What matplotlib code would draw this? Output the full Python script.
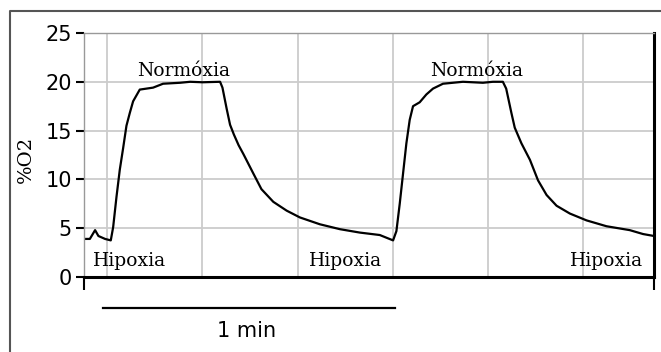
import matplotlib
matplotlib.use("Agg")
import matplotlib.pyplot as plt
from matplotlib.lines import Line2D

# O2 trace (time in s, %O2)
t = [0.0, 1.3, 2.4, 3.1, 4.5, 5.7, 6.2, 6.9, 7.6, 8.3, 9.0, 9.7, 10.4, 11.8,
     14.6, 16.7, 20.3, 22.4, 25.0, 28.7, 29.2, 30.1, 30.8, 31.6, 32.6, 33.6, 35.7,
     37.4, 39.9, 42.7, 45.5, 49.7, 53.9, 58.1, 62.3, 65.1,
     65.8, 66.5, 67.2, 67.9, 68.6, 69.3, 70.7, 72.1, 73.5, 75.6, 79.8, 84.0,
     86.1, 88.2, 88.9, 90.0, 90.7, 92.1, 93.9, 95.6, 97.4, 99.5, 102.3, 105.8,
     110.0, 114.9, 117.7, 120.0]
o2 = [3.9, 3.9, 4.8, 4.2, 3.9, 3.75, 5.1, 8.2, 11.0, 13.2, 15.5, 16.8, 18.0, 19.2,
      19.4, 19.8, 19.9, 20.0, 19.95, 20.0, 19.4, 17.2, 15.6, 14.6, 13.5, 12.6, 10.6,
      9.0, 7.7, 6.8, 6.1, 5.4, 4.9, 4.55, 4.3, 3.75,
      4.7, 7.5, 10.6, 13.7, 16.1, 17.5, 17.9, 18.7, 19.3, 19.8, 20.0, 19.9,
      20.0, 20.0, 19.3, 16.8, 15.3, 13.7, 12.0, 9.9, 8.4, 7.3, 6.5, 5.8,
      5.2, 4.8, 4.4, 4.2]

normoxia_t = [21.1, 82.7]
hipoxia_t = [9.7, 55.0, 110.0]
grid_t = [5, 25, 45, 65, 85, 105]
y_ticks = [0, 5, 10, 15, 20, 25]
bar_t = [4.1, 65.5]

fig = plt.figure(figsize=(6.61, 3.52), dpi=100)
ax = fig.add_axes([0.1266, 0.2131, 0.8628, 0.6932])

for g in grid_t:
    ax.axvline(g, color="#cccccc", lw=1.3, zorder=0)
for y in y_ticks[1:-1]:
    ax.axhline(y, color="#cccccc", lw=1.3, zorder=0)

ax.plot(t, o2, color="black", lw=1.6)

ax.set_xlim(0, 120)
ax.set_ylim(0, 25)
ax.set_yticks(y_ticks)
ax.set_xticks([0, 120])
ax.set_xticklabels([])
ax.tick_params(axis="y", length=6, width=1.5, pad=2.5, labelsize=15)
ax.tick_params(axis="x", length=9, width=1.5)

for s in ["left", "top"]:
    ax.spines[s].set_color("#999999")
    ax.spines[s].set_linewidth(1.0)
for s in ["right", "bottom"]:
    ax.spines[s].set_color("black")
    ax.spines[s].set_linewidth(2.2)

ax.set_ylabel("%O2", family="DejaVu Serif", fontsize=14)
ax.yaxis.set_label_coords(-0.086, 0.48)

for x in normoxia_t:
    ax.text(x, 20.6, "Normóxia", family="DejaVu Serif", fontsize=13.5,
            ha="center", va="baseline")
for x in hipoxia_t:
    ax.text(x, 1.1, "Hipoxia", family="DejaVu Serif", fontsize=13.5,
            ha="center", va="baseline")

# 1 min scale bar under the axis
tr = ax.get_xaxis_transform()
ax.plot(bar_t, [-0.127, -0.127], color="black", lw=1.6, transform=tr, clip_on=False)
ax.text(sum(bar_t) / 2 - 0.5, -0.221, "1 min", transform=tr, ha="center",
        va="center", fontsize=15)

# outer frame (left and top edges)
fig.add_artist(Line2D([0.0144, 0.0144, 1.0], [0.0, 0.9688, 0.9688],
                      color="#555555", lw=1.5, transform=fig.transFigure))

fig.savefig("out.png", dpi=100)
